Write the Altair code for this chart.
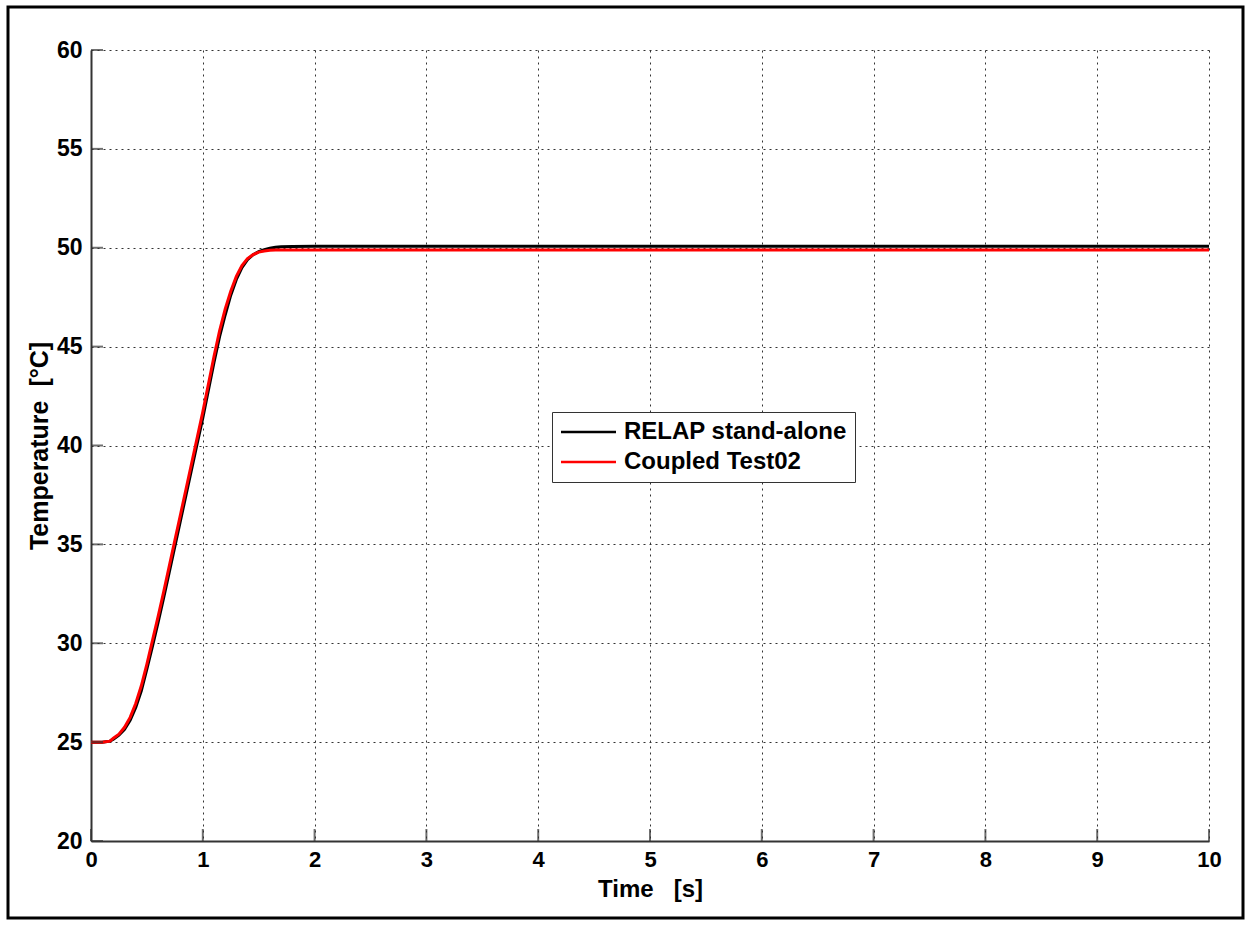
import altair as alt
import pandas as pd

# ---- data ----
t_black = [0, 0.1, 0.17, 0.2, 0.25, 0.3, 0.35, 0.4, 0.45, 0.5, 0.55, 0.6, 0.65, 0.7, 0.75,
           0.8, 0.85, 0.9, 0.95, 1.0, 1.05, 1.1, 1.15, 1.2, 1.25, 1.3, 1.35, 1.4, 1.45, 1.5,
           1.55, 1.6, 1.65, 1.7, 1.8, 2.0, 3, 4, 5, 6, 7, 8, 9, 10]
temp_black = [25, 25, 25.05, 25.15, 25.35, 25.65, 26.1, 26.75, 27.6, 28.7, 29.85, 31.05, 32.3,
              33.6, 34.9, 36.2, 37.5, 38.8, 40.1, 41.4, 42.8, 44.2, 45.5, 46.6, 47.6, 48.4,
              49.0, 49.4, 49.65, 49.8, 49.9, 49.97, 50.02, 50.05, 50.06, 50.07, 50.07, 50.07,
              50.07, 50.07, 50.07, 50.07, 50.07, 50.07]
t_red = t_black
temp_red = [25, 25, 25.05, 25.2, 25.4, 25.75, 26.25, 26.95, 27.85, 28.95, 30.15, 31.35, 32.6,
            33.9, 35.2, 36.5, 37.8, 39.1, 40.4, 41.7, 43.1, 44.5, 45.8, 46.9, 47.8, 48.55,
            49.1, 49.45, 49.65, 49.78, 49.84, 49.87, 49.88, 49.88, 49.88, 49.88, 49.88, 49.88,
            49.88, 49.88, 49.88, 49.88, 49.88, 49.88]
series_names = ["RELAP stand-alone", "Coupled Test02"]
series_colors = ["#000000", "#ff0000"]
x_ticks = [0, 1, 2, 3, 4, 5, 6, 7, 8, 9, 10]
y_ticks = [20, 25, 30, 35, 40, 45, 50, 55, 60]
x_title = "Time\u00a0\u00a0\u00a0[s]"
y_title = "Temperature\u00a0\u00a0[°C]"

df_black = pd.DataFrame({"t": t_black, "T": temp_black, "s": series_names[0]})
df_red = pd.DataFrame({"t": t_red, "T": temp_red, "s": series_names[1]})
df_xt = pd.DataFrame({"v": x_ticks})
df_yt = pd.DataFrame({"v": y_ticks})

FONT = "Liberation Sans"
NARROW = "Liberation Sans Narrow, Liberation Sans"
W, H = 1118, 791

x_scale = alt.Scale(domain=[0, 10], nice=False)
y_scale = alt.Scale(domain=[20, 60], nice=False)
color = alt.Color("s:N", scale=alt.Scale(domain=series_names, range=series_colors),
                  legend=alt.Legend(title=None, orient="none", legendX=461, legendY=362,
                                    fillColor="white", strokeColor="#333333", padding=8,
                                    labelFont=FONT, labelFontSize=24, labelFontWeight="bold",
                                    labelColor="black", labelLimit=0,
                                    symbolType="M-2,0H8", symbolSize=121,
                                    symbolStrokeWidth=2.5, labelOffset=40, rowPadding=6))

x_axis = alt.Axis(values=x_ticks, format="d", grid=True, gridDash=[2, 4], gridColor="#333333",
                  gridWidth=1, ticks=False, domain=True, domainColor="#333333",
                  domainWidth=2, labelFont=FONT, labelFontSize=22, labelFontWeight="bold",
                  labelColor="black", labelPadding=8, labelFlush=False, title=x_title,
                  titleFont=FONT, titleFontSize=24, titleFontWeight="bold",
                  titleColor="black", titlePadding=7)
y_axis = alt.Axis(values=y_ticks, format="d", grid=True, gridDash=[2, 4], gridColor="#333333",
                  gridWidth=1, ticks=False, domain=True, domainColor="#333333",
                  domainWidth=2, labelFont=NARROW, labelFontSize=23, labelFontWeight="bold",
                  labelColor="black", labelPadding=9, labelFlush=False, title=y_title,
                  titleFont=FONT, titleFontSize=25, titleFontWeight="bold",
                  titleColor="black", titlePadding=4)

black_line = alt.Chart(df_black).mark_line(strokeWidth=3).encode(
    x=alt.X("t:Q", scale=x_scale, axis=x_axis),
    y=alt.Y("T:Q", scale=y_scale, axis=y_axis),
    color=color,
)
red_line = alt.Chart(df_red).mark_line(strokeWidth=3).encode(
    x=alt.X("t:Q", scale=x_scale),
    y=alt.Y("T:Q", scale=y_scale),
    color=color,
)

x_tickmarks = alt.Chart(df_xt).mark_tick(orient="vertical", size=12, thickness=2,
                                         color="#333333", yOffset=-6).encode(
    x=alt.X("v:Q", scale=x_scale), y=alt.value(H))
y_tickmarks = alt.Chart(df_yt).mark_tick(orient="horizontal", size=12, thickness=2,
                                         color="#333333", xOffset=6).encode(
    y=alt.Y("v:Q", scale=y_scale), x=alt.value(0))

frame = alt.Chart(pd.DataFrame({"a": [0]})).mark_rect(
    fillOpacity=0, stroke="black", strokeWidth=3).encode(
    x=alt.value(-83), x2=alt.value(1152), y=alt.value(-43), y2=alt.value(868))

chart = alt.layer(black_line, red_line, x_tickmarks, y_tickmarks, frame).properties(
    width=W, height=H,
    autosize=alt.AutoSizeParams(type="none"),
    padding={"left": 91, "top": 50, "right": 43, "bottom": 87},
    background="white",
).configure_view(stroke=None)

chart.save("out.html", embed_options={"renderer": "svg", "actions": False})
